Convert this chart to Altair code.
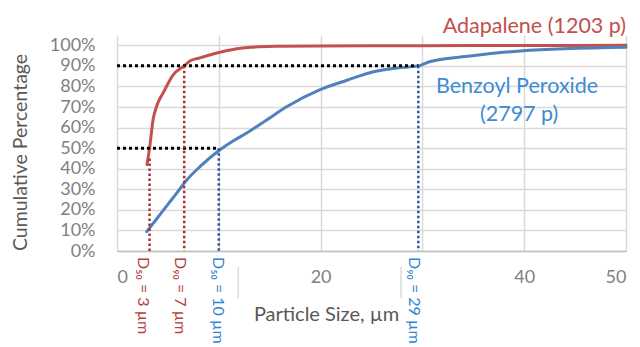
import altair as alt
import pandas as pd

# ---- data ----
series_names = ["Adapalene", "Benzoyl Peroxide"]
series_colors = ["#c4504d", "#4f81bd"]

ada_x = [2.95, 3.2, 3.55, 3.9, 4.55, 5.5, 6.6, 7.2, 8.0, 9.1, 10.0, 11.4, 13.1, 15.5, 20, 30, 40, 50]
ada_y = [0.42, 0.50, 0.64, 0.705, 0.77, 0.855, 0.90, 0.925, 0.937, 0.953, 0.965, 0.98, 0.99, 0.995, 0.997, 0.998, 0.999, 1.0]

bpo_x = [2.92, 4, 5, 6, 6.6, 6.85, 8.15, 10.05, 11.4, 12.7, 14.7, 16.7, 19.9, 22.6, 25.1, 27.5, 29.6, 30.7, 34.7, 39.6, 50]
bpo_y = [0.094, 0.163, 0.227, 0.29, 0.33, 0.345, 0.41, 0.49, 0.535, 0.572, 0.637, 0.702, 0.783, 0.83, 0.87, 0.89, 0.90, 0.92, 0.948, 0.972, 0.99]

x_ticks = [0, 10, 20, 30, 40, 50]
y_ticks = [0, 0.1, 0.2, 0.3, 0.4, 0.5, 0.6, 0.7, 0.8, 0.9, 1.0]

d_labels = ["D\u2085\u2080 = 3 \u00b5m", "D\u2089\u2080 = 7 \u00b5m", "D\u2085\u2080 = 10 \u00b5m", "D\u2089\u2080 = 29 \u00b5m"]
d_line_x = [3.2, 6.6, 10.0, 29.6]
d_line_top = [0.45, 0.90, 0.50, 0.90]
d_label_x = [2.55, 6.2, 9.9, 29.2]
d_line_colors = ["#a8322d", "#a8322d", "#2f5597", "#2f5597"]
d_text_colors = ["#b5403d", "#b5403d", "#2e86d0", "#2e86d0"]

h_levels = [0.9, 0.5]
h_ends = [29.6, 10.0]

name_texts = ["Adapalene (1203 p)", "Benzoyl Peroxide", "(2797 p)"]
name_x = [50, 39.3, 39.5]
name_y = [1.061, 0.769, 0.633]
name_align = ["right", "center", "center"]
name_colors = ["#c0504d", "#3d8bd4", "#3d8bd4"]

box_edge_x = [11.9, 27.9]

FONT = "Lato, DejaVu Sans, sans-serif"

# ---- tables ----
rows = []
for i, (xv, yv) in enumerate(zip(ada_x, ada_y)):
    rows.append({"series": series_names[0], "size": xv, "cum": yv, "idx": i})
for i, (xv, yv) in enumerate(zip(bpo_x, bpo_y)):
    rows.append({"series": series_names[1], "size": xv, "cum": yv, "idx": i})
curve_df = pd.DataFrame(rows)

vdf = pd.DataFrame({"x": d_line_x, "top": d_line_top, "bottom": [0] * 4, "color": d_line_colors})
hdf = pd.DataFrame({"level": h_levels, "x0": [0] * 2, "x1": h_ends})
ldf = pd.DataFrame({"x": d_label_x, "label": d_labels, "color": d_text_colors})
ndf = pd.DataFrame({"x": name_x, "y": name_y, "text": name_texts, "color": name_colors, "align": name_align})
edf = pd.DataFrame({"x": box_edge_x})

xscale = alt.Scale(domain=[0, 50], nice=False, zero=False)
yscale = alt.Scale(domain=[0, 1.05], nice=False)

xaxis = alt.Axis(
    values=x_ticks, grid=True, gridColor="#d9d9d9", gridWidth=1.5, ticks=False,
    domainColor="#bfbfbf", domainWidth=1.5,
    labelExpr="datum.value == 10 || datum.value == 30 ? '' : datum.label",
    labelFont=FONT, labelFontSize=18, labelColor="#7f7f7f", labelPadding=17,
    title="Particle Size, \u00b5m", titleFont=FONT, titleFontSize=20, titleFontWeight="normal",
    titleColor="#595959", titleX=209, titleY=69, titleAlign="center", titleBaseline="alphabetic",
)
yaxis = alt.Axis(
    values=y_ticks, format=".0%", grid=True, gridColor="#d9d9d9", gridWidth=1.5, ticks=False,
    domain=False, labelFont=FONT, labelFontSize=18, labelColor="#7f7f7f", labelPadding=22,
    labelOverlap=False, labelBaseline="middle", labelSeparation=0, labelBound=False,
    title="Cumulative Percentage", titleFont=FONT, titleFontSize=19.5, titleFontWeight="normal",
    titleColor="#595959", titleX=-97, titleY=117, titleAngle=-90, titleAlign="center",
    titleBaseline="middle",
)

lines = alt.Chart(curve_df).mark_line(strokeWidth=3, strokeCap="round", strokeJoin="round", interpolate="monotone").encode(
    x=alt.X("size:Q", scale=xscale, axis=xaxis),
    y=alt.Y("cum:Q", scale=yscale, axis=yaxis),
    color=alt.Color("series:N", scale=alt.Scale(domain=series_names, range=series_colors), legend=None),
    order="idx:Q",
)

hrules = alt.Chart(hdf).mark_rule(color="#000000", strokeWidth=3, strokeDash=[3, 3]).encode(
    x=alt.X("x0:Q", axis=xaxis), x2="x1:Q", y=alt.Y("level:Q", axis=yaxis)
)

vrules = alt.Chart(vdf).mark_rule(strokeWidth=2.5, strokeDash=[2.5, 2.5]).encode(
    x=alt.X("x:Q", axis=xaxis), y=alt.Y("top:Q", axis=yaxis), y2="bottom:Q",
    color=alt.Color("color:N", scale=None)
)

dtext = alt.Chart(ldf).mark_text(angle=90, align="left", baseline="middle", font=FONT, fontSize=16).encode(
    x=alt.X("x:Q", axis=xaxis), y=alt.value(222), text="label:N", color=alt.Color("color:N", scale=None)
)

edges = alt.Chart(edf).mark_rule(color="#c8c8c8", strokeWidth=1).encode(
    x=alt.X("x:Q", axis=xaxis), y=alt.value(232), y2=alt.value(263)
)

names_r = alt.Chart(ndf[ndf["align"] == "right"]).mark_text(align="right", baseline="alphabetic", font=FONT, fontSize=21.5).encode(
    x=alt.X("x:Q", axis=xaxis), y=alt.Y("y:Q", axis=yaxis), text="text:N", color=alt.Color("color:N", scale=None)
)
names_c = alt.Chart(ndf[ndf["align"] == "center"]).mark_text(align="center", baseline="alphabetic", font=FONT, fontSize=21.5).encode(
    x=alt.X("x:Q", axis=xaxis), y=alt.Y("y:Q", axis=yaxis), text="text:N", color=alt.Color("color:N", scale=None)
)

chart = alt.layer(lines, hrules, vrules, dtext, edges, names_r, names_c).properties(
    width=509, height=216,
    background="#ffffff",
    autosize=alt.AutoSizeParams(type="none"),
    padding={"left": 109, "top": 27, "right": 6, "bottom": 94},
).configure_view(stroke=None).configure_axis(labelOverlap=False)

chart.save("out.html", embed_options={"renderer": "svg", "actions": False})
